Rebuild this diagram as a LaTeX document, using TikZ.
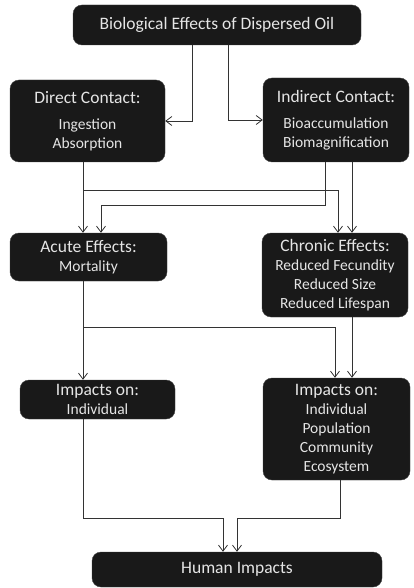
\documentclass[tikz,border=0pt]{standalone}
\usepackage{fontspec}
\setmainfont{Carlito}
\usetikzlibrary{arrows.meta}
\begin{document}
\begin{tikzpicture}[x=1pt, y=-1pt,
    box/.style={fill=black!90, draw=black!75, rounded corners=9pt, text=white!90!black,
        align=center, inner sep=2pt, font=\fontsize{15.5}{19}\selectfont},
    link/.style={draw=black!80, line width=0.8pt, -{Straight Barb[length=6pt, width=9pt]}}]
    \useasboundingbox (0,0) rectangle (414,588);

    \node[box, minimum width=288pt, minimum height=40pt] (oil) at (217,25)
        {\fontsize{17.5}{20}\selectfont Biological Effects of Dispersed Oil};

    \begin{scope}
        \node[box, minimum width=155pt, minimum height=82pt] (direct) at (87.5,121)
            {{\fontsize{17.5}{20}\selectfont Direct Contact:}\\[7pt] Ingestion\\ Absorption};
        \node[box, minimum width=146pt, minimum height=84pt] (indirect) at (336,120)
            {{\fontsize{17.5}{20}\selectfont Indirect Contact:}\\[7pt] Bioaccumulation\\ Biomagnification};
    \end{scope}

    \begin{scope}
        \node[box, minimum width=157pt, minimum height=48pt] (acute) at (88.5,257)
            {{\fontsize{17.5}{20}\selectfont Acute Effects:}\\ Mortality};
        \node[box, minimum width=146pt, minimum height=84pt] (chronic) at (335,275)
            {{\fontsize{17.5}{20}\selectfont Chronic Effects:}\\ Reduced Fecundity\\ Reduced Size\\ Reduced Lifespan};
    \end{scope}

    \begin{scope}
        \node[box, minimum width=155pt, minimum height=39pt] (impind) at (97.5,399.5)
            {{\fontsize{17.5}{20}\selectfont Impacts on:}\\ Individual};
        \node[box, minimum width=147pt, minimum height=102pt] (impall) at (336.5,429)
            {{\fontsize{17.5}{20}\selectfont Impacts on:}\\ Individual\\ Population\\ Community\\ Ecosystem};
    \end{scope}

    \node[box, minimum width=290pt, minimum height=35pt] (human) at (237,569.5)
        {\fontsize{17.5}{20}\selectfont Human Impacts};

    % contact routes
    \draw[link] ([xshift=-25pt]oil.south) |- (direct.east);
    \draw[link] ([xshift=11pt]oil.south) |- (indirect.west);

    % effects
    \draw[link] ([xshift=-4.5pt]direct.south) -- ([xshift=-4.5pt]direct.south |- acute.north);
    \draw[link] ([xshift=-4.5pt]direct.south) -- ++(0,28) -| ([xshift=3pt]chronic.north);
    \draw[link] ([xshift=-11pt]indirect.south) -- ++(0,43) -| ([xshift=12.5pt]acute.north);
    \draw[link] ([xshift=16pt]indirect.south) -- ([xshift=16pt]indirect.south |- chronic.north);

    % impacts
    \draw[link] ([xshift=-5.5pt]acute.south) -- ([xshift=-5.5pt]acute.south |- impind.north);
    \draw[link] ([xshift=-5.5pt]acute.south) -- ++(0,46) -| ([xshift=-1.5pt]impall.north);
    \draw[link] ([xshift=17pt]chronic.south) -- ([xshift=17pt]chronic.south |- impall.north);
    \draw[link] ([xshift=-14.5pt]impind.south) -- ++(0,99) -| ([xshift=-14pt]human.north);
    \draw[link] ([xshift=3.5pt]impall.south) -- ++(0,38) -| (human.north);
\end{tikzpicture}
\end{document}
